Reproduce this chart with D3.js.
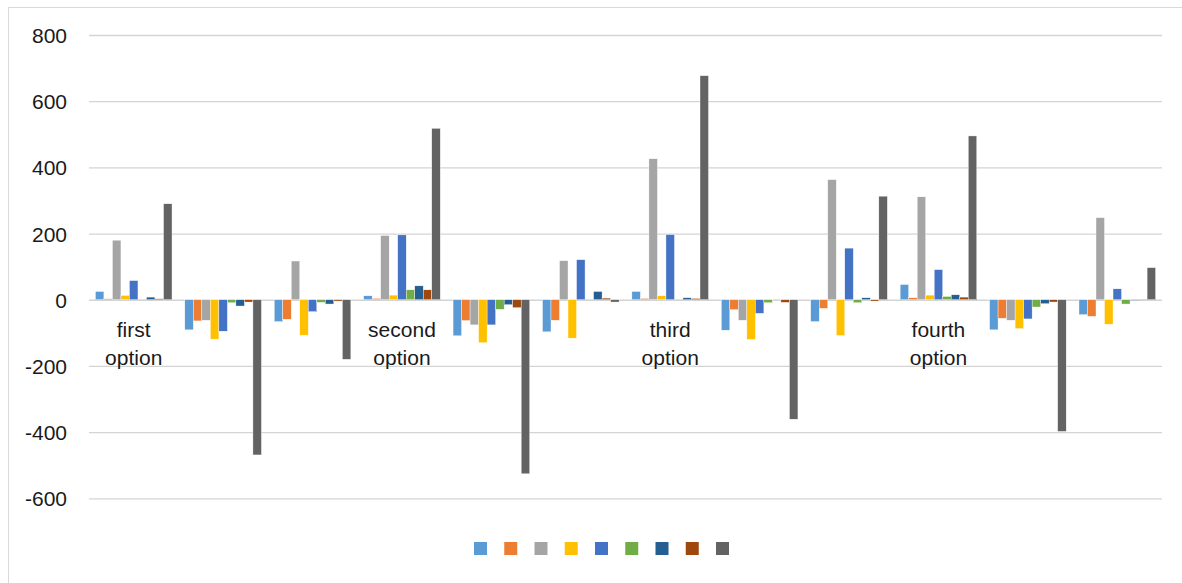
<!DOCTYPE html>
<html>
<head>
<meta charset="utf-8">
<script src="https://cdn.jsdelivr.net/npm/d3@7"></script>
<style>
  html, body { margin: 0; padding: 0; background: #fff; }
  svg { display: block; }
  text { font-family: "Liberation Sans", Arial, sans-serif; fill: #1a1a1a; }
</style>
</head>
<body>
<svg id="chart" width="1182" height="583"></svg>
<script>
// Categories: 12 groups, only every third has a visible label
const categories = ["first option", "", "", "second option", "", "", "third option", "", "", "fourth option", "", ""];
const seriesNames = ["s1", "s2", "s3", "s4", "s5", "s6", "s7", "s8", "s9"];
const seriesColors = ["#5B9BD5", "#ED7D31", "#A5A5A5", "#FFC000", "#4472C4", "#70AD47", "#255E91", "#9E480E", "#636363"];
const yTicks = [-600, -400, -200, 0, 200, 400, 600, 800];

// values per series, one per category
const s1 = [25, -91, -66, 12, -109, -97, 25, -92, -66, 46, -91, -45];
const s2 = [3, -64, -59, 4, -63, -62, 4, -30, -26, 6, -56, -50];
const s3 = [180, -62, 117, 194, -76, 118, 426, -62, 363, 311, -62, 248];
const s4 = [13, -119, -107, 14, -130, -116, 12, -120, -108, 14, -87, -74];
const s5 = [58, -95, -36, 196, -76, 121, 197, -41, 156, 91, -58, 33];
const s6 = [1, -9, -8, 30, -29, 1, 1, -9, -9, 10, -22, -13];
const s7 = [8, -19, -13, 42, -15, 25, 6, -1, 6, 15, -12, -2];
const s8 = [3, -7, -4, 30, -24, 5, 4, -8, -4, 8, -7, 1];
const s9 = [290, -469, -180, 518, -526, -7, 677, -361, 313, 495, -398, 97];
const seriesValues = [s1, s2, s3, s4, s5, s6, s7, s8, s9];

const svg = d3.select("#chart");

// outer chart border
svg.append("rect")
  .attr("x", 8.5).attr("y", 7.5)
  .attr("width", 1200).attr("height", 600)
  .attr("fill", "none").attr("stroke", "#d9d9d9").attr("stroke-width", 1);

const left = 89, right = 1162;
const y = d3.scaleLinear().domain([-600, 800]).range([498.3, 35]);
const x0 = d3.scaleBand().domain(d3.range(categories.length)).range([left, right]).paddingInner(0.143).paddingOuter(0.0715);
const x1 = d3.scaleBand().domain(d3.range(seriesNames.length)).range([0, x0.bandwidth()]);

// gridlines via axis
const yAxis = d3.axisLeft(y).tickValues(yTicks).tickFormat(d => String(d))
  .tickSize(-(right - left)).tickPadding(22);
const gAxis = svg.append("g").attr("transform", `translate(${left},0)`).call(yAxis);
gAxis.select(".domain").remove();
gAxis.selectAll(".tick line").attr("stroke", "#d4d4d4").attr("stroke-width", 1.3);
gAxis.selectAll(".tick text")
  .attr("font-size", 21)
  .attr("font-family", "'Liberation Sans', Arial, sans-serif")
  .attr("fill", "#1a1a1a")
  .attr("dy", "0.36em");

// bars
const groups = svg.append("g").selectAll("g")
  .data(categories.map((c, i) => i))
  .join("g")
  .attr("transform", i => `translate(${x0(i)},0)`);

groups.selectAll("rect")
  .data(i => seriesValues.map((vals, s) => ({ s, v: vals[i] })))
  .join("rect")
  .attr("x", d => x1(d.s))
  .attr("width", x1.bandwidth())
  .attr("y", d => y(Math.max(0, d.v)))
  .attr("height", d => Math.abs(y(d.v) - y(0)))
  .attr("fill", d => seriesColors[d.s])
  .attr("stroke", "#ffffff")
  .attr("stroke-width", 0.4);

// category labels (two lines each)
const labelG = svg.append("g");
categories.forEach((c, i) => {
  if (!c) return;
  const parts = c.split(" ");
  const t = labelG.append("text")
    .attr("text-anchor", "middle")
    .attr("font-size", 21)
    .attr("x", x0(i) + x0.bandwidth() / 2)
    .attr("y", 337);
  parts.forEach((p, k) => {
    t.append("tspan")
      .attr("x", x0(i) + x0.bandwidth() / 2)
      .attr("dy", k === 0 ? 0 : 28)
      .text(p);
  });
});

// legend: coloured squares only
const legendX = d3.scalePoint().domain(d3.range(seriesNames.length)).range([474, 716]);
svg.append("g").selectAll("rect")
  .data(seriesNames.map((n, i) => i))
  .join("rect")
  .attr("x", i => legendX(i))
  .attr("y", 542)
  .attr("width", 13)
  .attr("height", 13)
  .attr("fill", i => seriesColors[i]);
</script>
</body>
</html>
